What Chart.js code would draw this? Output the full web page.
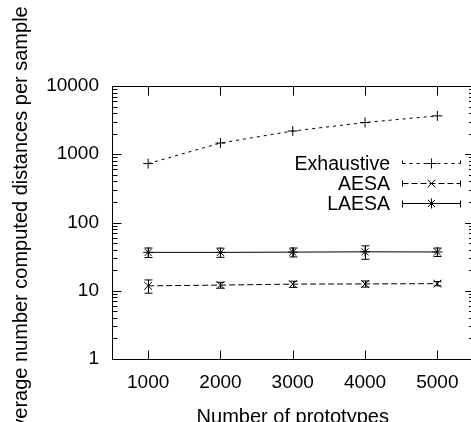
<!DOCTYPE html>
<html lang="en">
<head>
<meta charset="UTF-8">
<title>Average number of computed distances per sample</title>
<style>
  html, body { margin: 0; padding: 0; background: #fff; overflow: hidden; }
  .wrap { position: relative; width: 480px; height: 422px; }
</style>
</head>
<body>
<div class="wrap"><canvas id="chart" width="480" height="422"></canvas></div>
<script src="https://cdn.jsdelivr.net/npm/chart.js"></script>
<script>
// data
const prototypes = [1000, 2000, 3000, 4000, 5000];
const seriesNames = ['Exhaustive', 'AESA', 'LAESA'];
const exhaustive = [730, 1460, 2190, 2920, 3650];
const exhaustiveErr = [0, 0, 0, 0, 0];
const aesa = [11.8, 12.1, 12.5, 12.6, 12.7];
const aesaErr = [2.6, 1.2, 1.3, 1.3, 0.9];
const laesa = [36.5, 36.5, 36.8, 37.2, 37.0];
const laesaErr = [5.8, 5.6, 5.5, 8.3, 5.2];
const xTicks = [1000, 2000, 3000, 4000, 5000];
const yTicks = [1, 10, 100, 1000, 10000];

const FONT = '"Liberation Sans", Arial, sans-serif';
Chart.defaults.font.family = FONT;
Chart.defaults.color = '#000';

const styles = [
    { dash: [3, 4], point: 'cross', radius: 5 },
    { dash: [6, 3], point: 'crossRot', radius: 5.5 },
    { dash: [], point: 'star', radius: 5 }
];
const values = [exhaustive, aesa, laesa];
const errors = [exhaustiveErr, aesaErr, laesaErr];

function pts(ys) {
    return prototypes.map((x, i) => ({ x: x, y: ys[i] }));
}

// gnuplot-like frame, inward ticks, error bars, key and axis titles
const gnuplotLook = {
    id: 'gnuplotLook',
    afterDatasetsDraw(chart) {
        const ctx = chart.ctx;
        const xs = chart.scales.x, ys = chart.scales.y;
        ctx.save();
        ctx.strokeStyle = '#000';
        ctx.lineWidth = 1;
        ctx.setLineDash([]);
        values.forEach((vals, s) => {
            vals.forEach((v, i) => {
                const e = errors[s][i];
                if (!e) return;
                const px = Math.round(xs.getPixelForValue(prototypes[i])) + 0.5;
                const top = ys.getPixelForValue(v + e);
                const bot = ys.getPixelForValue(v - e);
                ctx.beginPath();
                ctx.moveTo(px, top); ctx.lineTo(px, bot);
                ctx.moveTo(px - 4, top); ctx.lineTo(px + 4, top);
                ctx.moveTo(px - 4, bot); ctx.lineTo(px + 4, bot);
                ctx.stroke();
            });
        });
        ctx.restore();
    },
    afterDraw(chart) {
        const ctx = chart.ctx;
        const a = chart.chartArea;
        const xs = chart.scales.x, ys = chart.scales.y;
        const L = a.left + 0.5, R = a.right + 0.5, T = a.top + 0.5, B = a.bottom + 0.5;
        ctx.save();
        ctx.strokeStyle = '#000';
        ctx.lineWidth = 1;
        ctx.setLineDash([]);
        ctx.strokeRect(L, T, R - L, B - T);

        ctx.beginPath();
        xTicks.forEach(v => {
            const px = Math.round(xs.getPixelForValue(v)) + 0.5;
            ctx.moveTo(px, B); ctx.lineTo(px, B - 9);
            ctx.moveTo(px, T); ctx.lineTo(px, T + 9);
        });
        yTicks.forEach((v, k) => {
            const py = Math.round(ys.getPixelForValue(v)) + 0.5;
            ctx.moveTo(L, py); ctx.lineTo(L + 9, py);
            ctx.moveTo(R, py); ctx.lineTo(R - 9, py);
            if (k < yTicks.length - 1) {
                for (let m = 2; m <= 9; m++) {
                    const qy = Math.round(ys.getPixelForValue(v * m)) + 0.5;
                    ctx.moveTo(L, qy); ctx.lineTo(L + 5, qy);
                    ctx.moveTo(R, qy); ctx.lineTo(R - 5, qy);
                }
            }
        });
        ctx.stroke();

        // key
        const rowY = [163, 182.5, 202.5];
        const x0 = 402.5, x1 = 460.5, xm = 431.5;
        ctx.font = '19.5px ' + FONT;
        ctx.fillStyle = '#000';
        ctx.textAlign = 'right';
        ctx.textBaseline = 'middle';
        seriesNames.forEach((name, s) => {
            const y = Math.round(rowY[s]) + 0.5;
            ctx.fillText(name, 390, y + 1);
            ctx.setLineDash(styles[s].dash);
            ctx.beginPath();
            ctx.moveTo(x0, y); ctx.lineTo(x1, y);
            ctx.moveTo(x0, y - 3); ctx.lineTo(x0, y + 4);
            ctx.moveTo(x1, y - 3); ctx.lineTo(x1, y + 4);
            ctx.stroke();
            ctx.setLineDash([]);
            Chart.helpers.drawPoint(ctx, {
                pointStyle: styles[s].point, radius: styles[s].radius,
                rotation: 0, borderWidth: 1
            }, xm, y);
        });

        // axis titles
        ctx.font = '20px ' + FONT;
        ctx.textAlign = 'center';
        ctx.textBaseline = 'alphabetic';
        ctx.fillText('Number of prototypes', (a.left + a.right) / 2, 423);
        ctx.translate(27, 224);
        ctx.rotate(-Math.PI / 2);
        ctx.fillText('Average number computed distances per sample', 0, 0);
        ctx.restore();
    }
};

new Chart(document.getElementById('chart'), {
    type: 'line',
    data: {
        datasets: seriesNames.map((name, s) => ({
            label: name,
            data: pts(values[s]),
            borderColor: '#000',
            backgroundColor: '#000',
            borderWidth: 1,
            borderDash: styles[s].dash,
            pointStyle: styles[s].point,
            pointRadius: styles[s].radius,
            pointBorderWidth: 1,
            pointBorderColor: '#000',
            tension: 0,
            fill: false
        }))
    },
    options: {
        responsive: false,
        animation: false,
        layout: { padding: { top: 86, right: 4, left: 0, bottom: 0 } },
        plugins: {
            legend: { display: false },
            tooltip: { enabled: false }
        },
        scales: {
            x: {
                type: 'linear',
                min: 500,
                max: 5500,
                afterBuildTicks: s => { s.ticks = xTicks.map(v => ({ value: v })); },
                afterFit: s => { s.height = 63; },
                grid: { display: false },
                border: { display: false },
                ticks: {
                    font: { size: 19 },
                    padding: 4,
                    maxRotation: 0,
                    autoSkip: false,
                    callback: v => String(v)
                }
            },
            y: {
                type: 'logarithmic',
                min: 1,
                max: 10000,
                afterBuildTicks: s => { s.ticks = yTicks.map(v => ({ value: v })); },
                afterFit: s => { s.width = 112; },
                grid: { display: false },
                border: { display: false },
                ticks: {
                    font: { size: 19 },
                    padding: 5,
                    autoSkip: false,
                    callback: v => String(v)
                }
            }
        }
    },
    plugins: [gnuplotLook]
});
</script>
</body>
</html>
